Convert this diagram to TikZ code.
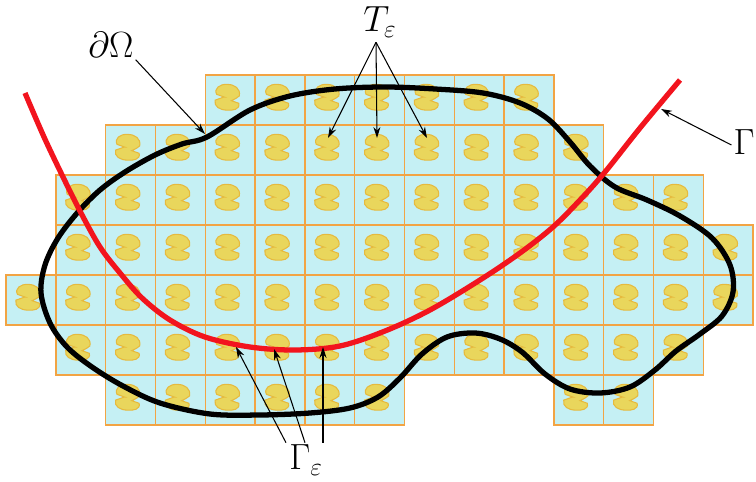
\documentclass[tikz,border=0pt]{standalone}
\usetikzlibrary{arrows.meta,calc}
\definecolor{cellfill}{HTML}{C5F0F4}
\definecolor{cellline}{HTML}{F2A444}
\definecolor{inclfill}{HTML}{E9D65C}
\definecolor{inclline}{HTML}{E6BA3E}
\definecolor{gammared}{HTML}{F2141E}
\tikzset{
    cellbox/.style={draw=cellline, fill=cellfill, line width=0.8pt},
    inclbody/.style={draw=inclline, fill=inclfill, line width=0.6pt},
    bdrycurve/.style={line width=3pt, black},
    gammacurve/.style={line width=3pt, gammared},
    lblarrow/.style={-{Stealth[length=2.2mm, width=1.4mm]}, line width=0.6pt},
    lbl/.style={font=\huge, inner sep=1pt},
    incl/.pic={
        \draw[inclbody, scale=1.05] (-3,0) .. controls (-6,-1) .. (-10,-2.5)
            .. controls (-13,-8) and (-7,-12.5) .. (0,-12)
            .. controls (7,-12) and (13,-8) .. (11.5,-1)
            .. controls (9,1) .. (4,3.5)
            .. controls (7,4.5) .. (11,6)
            .. controls (12.5,12) and (5,13) .. (0,12.5)
            .. controls (-7,12.5) and (-13,9) .. (-11.5,3)
            .. controls (-8,1) .. cycle;
    }
}

\begin{document}
\begin{tikzpicture}[x=0.02cm, y=-0.02cm]
\useasboundingbox (0,0) rectangle (756,482);
% periodic cells with inclusions
\foreach \r/\ca/\cb in {0/4/10,1/2/11,2/1/13,3/1/14,4/0/14,5/1/13,6/2/7,6/11/12}
  \foreach \c in {\ca,...,\cb}{
    \draw[cellbox] ({6+49.8*\c},{75+50*\r}) rectangle +(49.8,50);
    \path ({6+49.8*\c+22},{75+50*\r+22}) pic{incl};
  }
% boundary of Omega
\draw[bdrycurve] plot[smooth cycle, tension=0.55] coordinates {
    (207,137) (250,110) (290,96) (335,89) (385,87) (435,89) (483,93)
    (520,103) (548,119) (570,142) (590,166) (615,187) (647,200) (680,216)
    (712,238) (730,265) (733,292) (722,316) (700,334) (676,351) (655,370)
    (630,387) (600,393) (570,389) (545,374) (522,352) (500,339) (475,333)
    (447,337) (422,354) (400,378) (378,397) (350,408) (310,413) (260,415)
    (210,414) (160,403) (123,386) (92,367) (67,347) (50,323) (41,293)
    (45,265) (58,238) (78,212) (100,190) (125,172) (155,155) (182,144)};
% interface Gamma
\draw[gammacurve] plot[smooth, tension=0.55] coordinates {
    (25,93) (44,137) (63,177) (81,213) (100,247) (120,273) (142,298)
    (170,320) (205,337) (250,347) (295,350) (340,346) (385,331) (430,310)
    (480,280) (520,253) (553,227) (580,200) (605,172) (640,128) (680,80)};

\node[lbl] (dOmega) at (111,45) {$\partial\Omega$};
\node[lbl] (Teps) at (380,22) {$T_\varepsilon$};
\node[lbl] (Gam) at (744,142) {$\Gamma$};
\node[lbl] (Geps) at (306,460) {$\Gamma_\varepsilon$};

\coordinate (bdryTip) at (205,134);
\coordinate (incA) at (328,138);
\coordinate (incB) at (377,138);
\coordinate (incC) at (427,138);
\coordinate (gamTip) at (661,109);
\coordinate (gepsA) at (236,347);
\coordinate (gepsB) at (274,349);
\coordinate (gepsC) at (323,347);

\draw[lblarrow] (dOmega.south east) -- (bdryTip);
\foreach \t in {incA,incB,incC}
    \draw[lblarrow] ($(Teps.south)+(-4,3)$) -- (\t);
\draw[lblarrow] ($(Gam.west)+(0,3)$) -- (gamTip);
\draw[lblarrow] ($(Geps.north)+(-20,0)$) -- (gepsA);
\draw[lblarrow] ($(Geps.north)+(-1,0)$) -- (gepsB);
\draw[lblarrow] ($(Geps.north)+(17,0)$) -- (gepsC);
\end{tikzpicture}
\end{document}
